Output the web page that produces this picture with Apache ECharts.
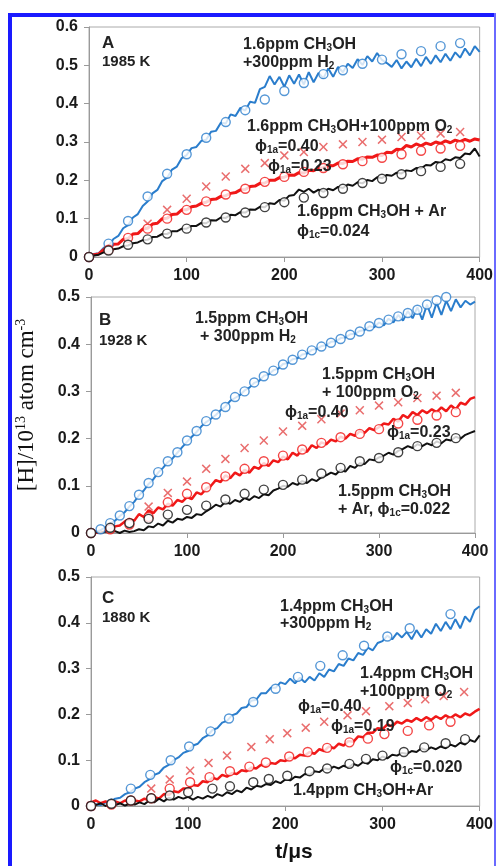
<!DOCTYPE html>
<html>
<head>
<meta charset="utf-8">
<script src="https://cdn.jsdelivr.net/npm/echarts@6/dist/echarts.min.js"></script>
<style>
  html, body { margin: 0; padding: 0; background: #fff; }
  #chart { width: 496px; height: 866px; }
</style>
</head>
<body>
<div id="chart"></div>
<script>
/* ---------- trace sample times (us) ---------- */
var traceTimes = [0, 5, 10, 15, 20, 25, 30, 35, 40, 45,
    50, 55, 60, 65, 70, 75, 80, 85, 90, 95,
    100, 105, 110, 115, 120, 125, 130, 135, 140, 145,
    150, 155, 160, 165, 170, 175, 180, 185, 190, 195,
    200, 205, 210, 215, 220, 225, 230, 235, 240, 245,
    250, 255, 260, 265, 270, 275, 280, 285, 290, 295,
    300, 305, 310, 315, 320, 325, 330, 335, 340, 345,
    350, 355, 360, 365, 370, 375, 380, 385, 390, 395,
    400];

/* ---------- panel A, 1985 K ---------- */
var traceA_H2 = [0.000, 0.008, 0.010, 0.024, 0.028, 0.047, 0.055, 0.075, 0.083, 0.103,
    0.112, 0.133, 0.145, 0.166, 0.175, 0.198, 0.207, 0.228, 0.236, 0.258,
    0.266, 0.284, 0.287, 0.303, 0.306, 0.327, 0.329, 0.350, 0.348, 0.372,
    0.368, 0.389, 0.382, 0.405, 0.402, 0.438, 0.444, 0.472, 0.450, 0.470,
    0.444, 0.474, 0.452, 0.476, 0.450, 0.482, 0.456, 0.480, 0.466, 0.492,
    0.470, 0.496, 0.482, 0.504, 0.493, 0.516, 0.501, 0.524, 0.510, 0.532,
    0.514, 0.506, 0.496, 0.514, 0.492, 0.510, 0.495, 0.517, 0.498, 0.522,
    0.504, 0.526, 0.508, 0.530, 0.512, 0.534, 0.520, 0.544, 0.526, 0.550,
    0.535];
var traceA_O2 = [0.000, 0.006, 0.008, 0.019, 0.020, 0.033, 0.034, 0.046, 0.048, 0.060,
    0.061, 0.073, 0.075, 0.086, 0.088, 0.100, 0.101, 0.111, 0.112, 0.123,
    0.123, 0.131, 0.133, 0.140, 0.143, 0.150, 0.151, 0.158, 0.160, 0.166,
    0.168, 0.175, 0.176, 0.184, 0.185, 0.192, 0.193, 0.200, 0.200, 0.207,
    0.208, 0.214, 0.213, 0.220, 0.219, 0.226, 0.225, 0.232, 0.233, 0.239,
    0.238, 0.245, 0.244, 0.250, 0.249, 0.256, 0.255, 0.261, 0.260, 0.266,
    0.265, 0.273, 0.272, 0.281, 0.280, 0.291, 0.287, 0.295, 0.290, 0.297,
    0.293, 0.300, 0.296, 0.303, 0.298, 0.305, 0.301, 0.307, 0.302, 0.308,
    0.305];
var traceA_Ar = [0.000, 0.004, 0.006, 0.012, 0.014, 0.020, 0.022, 0.028, 0.030, 0.036,
    0.038, 0.044, 0.045, 0.052, 0.053, 0.060, 0.060, 0.067, 0.067, 0.074,
    0.074, 0.081, 0.081, 0.089, 0.088, 0.096, 0.095, 0.103, 0.102, 0.110,
    0.109, 0.117, 0.116, 0.124, 0.123, 0.131, 0.130, 0.140, 0.138, 0.149,
    0.147, 0.160, 0.162, 0.176, 0.170, 0.178, 0.168, 0.176, 0.170, 0.178,
    0.174, 0.183, 0.180, 0.189, 0.186, 0.195, 0.192, 0.201, 0.198, 0.208,
    0.206, 0.214, 0.212, 0.220, 0.218, 0.226, 0.224, 0.232, 0.231, 0.240,
    0.239, 0.248, 0.246, 0.255, 0.252, 0.260, 0.258, 0.270, 0.268, 0.283,
    0.262];

var modelA_t = [0, 20, 40, 60, 80, 100, 120, 140, 160, 180, 200, 220, 240, 260, 280, 300, 320, 340, 360, 380];
var modelA_H2 = [0, 0.035, 0.094, 0.158, 0.217, 0.268, 0.311, 0.352, 0.383, 0.411, 0.433, 0.454, 0.477, 0.487, 0.504, 0.515, 0.529, 0.537, 0.550, 0.558];
var modelA_O2 = [0, 0.019, 0.050, 0.074, 0.100, 0.123, 0.145, 0.163, 0.178, 0.196, 0.209, 0.222, 0.232, 0.242, 0.250, 0.259, 0.268, 0.277, 0.283, 0.290];
var modelA_Ar = [0, 0.017, 0.032, 0.046, 0.061, 0.074, 0.090, 0.103, 0.116, 0.130, 0.143, 0.155, 0.167, 0.178, 0.193, 0.204, 0.216, 0.224, 0.235, 0.243];
var crossA_t = [60, 80, 100, 120, 140, 160, 180, 200, 220, 240, 260, 280, 300, 320, 340, 360, 380];
var crossA_O2 = [0.087, 0.123, 0.152, 0.184, 0.210, 0.230, 0.245, 0.265, 0.274, 0.287, 0.294, 0.300, 0.306, 0.313, 0.317, 0.322, 0.326];

/* ---------- panel B, 1928 K ---------- */
var traceB_H2 = [0.000, 0.003, 0.006, 0.012, 0.020, 0.026, 0.036, 0.044, 0.056, 0.066,
    0.080, 0.090, 0.104, 0.114, 0.128, 0.138, 0.150, 0.158, 0.170, 0.182,
    0.193, 0.204, 0.214, 0.226, 0.235, 0.242, 0.250, 0.260, 0.268, 0.280,
    0.286, 0.292, 0.302, 0.308, 0.318, 0.322, 0.333, 0.336, 0.345, 0.348,
    0.358, 0.360, 0.368, 0.370, 0.378, 0.380, 0.388, 0.390, 0.396, 0.398,
    0.405, 0.406, 0.413, 0.414, 0.421, 0.422, 0.428, 0.430, 0.438, 0.436,
    0.446, 0.440, 0.454, 0.446, 0.462, 0.450, 0.470, 0.455, 0.478, 0.452,
    0.484, 0.456, 0.488, 0.462, 0.492, 0.470, 0.495, 0.478, 0.492, 0.484,
    0.490];
var traceB_O2 = [0.000, 0.000, 0.000, 0.004, 0.008, 0.014, 0.016, 0.024, 0.030, 0.026,
    0.040, 0.034, 0.048, 0.042, 0.054, 0.050, 0.062, 0.058, 0.070, 0.066,
    0.076, 0.072, 0.086, 0.082, 0.094, 0.100, 0.112, 0.108, 0.122, 0.116,
    0.128, 0.122, 0.134, 0.128, 0.140, 0.136, 0.148, 0.142, 0.154, 0.150,
    0.162, 0.156, 0.170, 0.164, 0.178, 0.172, 0.186, 0.180, 0.192, 0.188,
    0.198, 0.194, 0.204, 0.200, 0.210, 0.206, 0.216, 0.212, 0.222, 0.218,
    0.224, 0.232, 0.230, 0.242, 0.236, 0.250, 0.244, 0.256, 0.250, 0.260,
    0.254, 0.262, 0.256, 0.266, 0.258, 0.270, 0.262, 0.276, 0.272, 0.284,
    0.288];
var traceB_Ar = [0.000, 0.002, 0.000, 0.003, 0.001, 0.004, 0.000, 0.005, 0.002, 0.004,
    0.008, 0.006, 0.014, 0.012, 0.020, 0.016, 0.026, 0.022, 0.030, 0.028,
    0.034, 0.032, 0.040, 0.038, 0.046, 0.052, 0.060, 0.056, 0.066, 0.062,
    0.070, 0.066, 0.074, 0.070, 0.078, 0.074, 0.082, 0.080, 0.090, 0.094,
    0.100, 0.098, 0.106, 0.102, 0.110, 0.106, 0.114, 0.110, 0.118, 0.122,
    0.128, 0.124, 0.134, 0.130, 0.142, 0.138, 0.148, 0.146, 0.156, 0.154,
    0.160, 0.164, 0.170, 0.166, 0.174, 0.178, 0.184, 0.180, 0.188, 0.184,
    0.190, 0.186, 0.194, 0.190, 0.198, 0.196, 0.204, 0.200, 0.208, 0.212,
    0.216];

var modelB_tH2 = [0, 10, 20, 30, 40, 50, 60, 70, 80, 90, 100, 110, 120, 130, 140, 150, 160, 170, 180, 190,
    200, 210, 220, 230, 240, 250, 260, 270, 280, 290, 300, 310, 320, 330, 340, 350, 360, 370];
var modelB_H2 = [0, 0.008, 0.021, 0.037, 0.057, 0.081, 0.106, 0.129, 0.152, 0.171, 0.196, 0.216, 0.237, 0.251, 0.267, 0.288, 0.300, 0.319, 0.332, 0.344,
    0.357, 0.367, 0.378, 0.387, 0.395, 0.403, 0.411, 0.420, 0.427, 0.438, 0.445, 0.452, 0.459, 0.466, 0.473, 0.484, 0.493, 0.500];
var modelB_t = [0, 20, 40, 60, 80, 100, 120, 140, 160, 180, 200, 220, 240, 260, 280, 300, 320, 340, 360, 380];
var modelB_O2 = [0, 0.008, 0.018, 0.034, 0.065, 0.083, 0.097, 0.120, 0.136, 0.152, 0.164, 0.177, 0.191, 0.203, 0.210, 0.220, 0.232, 0.240, 0.249, 0.256];
var modelB_Ar = [0, 0.011, 0.021, 0.030, 0.039, 0.049, 0.058, 0.071, 0.083, 0.092, 0.102, 0.113, 0.126, 0.138, 0.152, 0.159, 0.171, 0.184, 0.191, 0.201];
var crossB_t = [60, 80, 100, 120, 140, 160, 180, 200, 220, 240, 260, 280, 300, 320, 340, 360, 380];
var crossB_O2 = [0.056, 0.085, 0.109, 0.136, 0.157, 0.180, 0.196, 0.215, 0.227, 0.241, 0.253, 0.260, 0.270, 0.277, 0.286, 0.291, 0.297];

/* ---------- panel C, 1880 K ---------- */
var traceC_H2 = [0.000, 0.004, 0.002, 0.008, 0.010, 0.016, 0.018, 0.026, 0.030, 0.038,
    0.042, 0.052, 0.058, 0.068, 0.072, 0.084, 0.090, 0.100, 0.106, 0.116,
    0.120, 0.132, 0.136, 0.148, 0.154, 0.166, 0.170, 0.182, 0.186, 0.198,
    0.202, 0.214, 0.216, 0.230, 0.232, 0.246, 0.246, 0.258, 0.258, 0.270,
    0.266, 0.278, 0.268, 0.280, 0.270, 0.282, 0.274, 0.290, 0.282, 0.298,
    0.294, 0.310, 0.306, 0.322, 0.318, 0.334, 0.330, 0.346, 0.340, 0.356,
    0.360, 0.372, 0.364, 0.378, 0.368, 0.380, 0.364, 0.384, 0.368, 0.386,
    0.376, 0.398, 0.382, 0.402, 0.386, 0.408, 0.388, 0.414, 0.402, 0.428,
    0.436];
var traceC_O2 = [0.008, 0.012, 0.006, 0.010, 0.004, 0.010, 0.006, 0.012, 0.008, 0.012,
    0.010, 0.016, 0.012, 0.020, 0.016, 0.026, 0.024, 0.032, 0.030, 0.038,
    0.038, 0.046, 0.044, 0.054, 0.052, 0.062, 0.058, 0.068, 0.064, 0.072,
    0.070, 0.078, 0.076, 0.084, 0.082, 0.090, 0.086, 0.094, 0.092, 0.100,
    0.098, 0.106, 0.104, 0.112, 0.110, 0.118, 0.114, 0.124, 0.120, 0.130,
    0.126, 0.136, 0.132, 0.142, 0.140, 0.152, 0.150, 0.160, 0.160, 0.170,
    0.168, 0.178, 0.174, 0.184, 0.180, 0.188, 0.184, 0.192, 0.186, 0.194,
    0.188, 0.196, 0.190, 0.198, 0.192, 0.200, 0.194, 0.202, 0.198, 0.206,
    0.212];
var traceC_Ar = [0.004, 0.002, 0.006, 0.000, 0.005, 0.002, 0.006, 0.001, 0.005, 0.003,
    0.008, 0.004, 0.012, 0.008, 0.016, 0.010, 0.018, 0.014, 0.020, 0.016,
    0.020, 0.014, 0.020, 0.016, 0.022, 0.018, 0.026, 0.022, 0.030, 0.026,
    0.034, 0.030, 0.040, 0.036, 0.044, 0.042, 0.048, 0.046, 0.054, 0.050,
    0.058, 0.056, 0.064, 0.062, 0.070, 0.068, 0.076, 0.074, 0.082, 0.080,
    0.086, 0.082, 0.088, 0.084, 0.092, 0.088, 0.096, 0.092, 0.102, 0.100,
    0.108, 0.104, 0.112, 0.110, 0.116, 0.114, 0.120, 0.118, 0.126, 0.122,
    0.128, 0.124, 0.130, 0.126, 0.134, 0.130, 0.138, 0.134, 0.144, 0.140,
    0.154];

var modelC_tH2 = [0, 21, 41, 61, 82, 101, 123, 142, 167, 190, 213, 236, 259, 281, 305, 328, 370];
var modelC_H2 = [0, 0.005, 0.038, 0.068, 0.100, 0.130, 0.163, 0.191, 0.227, 0.256, 0.282, 0.306, 0.329, 0.350, 0.370, 0.388, 0.419];
var modelC_tO2 = [0, 21, 41, 62, 81, 102, 122, 143, 163, 180, 204, 223, 243, 266, 285, 302, 326, 348, 370];
var modelC_O2 = [0, 0.003, 0.012, 0.017, 0.038, 0.052, 0.063, 0.076, 0.086, 0.095, 0.108, 0.118, 0.127, 0.139, 0.147, 0.157, 0.164, 0.176, 0.184];
var modelC_tAr = [0, 21, 41, 62, 81, 100, 125, 143, 167, 183, 202, 225, 243, 266, 283, 300, 322, 343, 365, 385];
var modelC_Ar = [0, 0.005, 0.012, 0.017, 0.023, 0.030, 0.038, 0.043, 0.052, 0.059, 0.066, 0.076, 0.082, 0.092, 0.103, 0.110, 0.118, 0.128, 0.137, 0.146];
var crossC_t = [0, 62, 81, 102, 121, 140, 165, 184, 202, 221, 240, 264, 283, 307, 326, 344, 363, 384];
var crossC_O2 = [0, 0.038, 0.058, 0.077, 0.094, 0.110, 0.129, 0.146, 0.159, 0.171, 0.184, 0.198, 0.207, 0.218, 0.225, 0.233, 0.240, 0.249];

var xTicks = [0, 100, 200, 300, 400];

/* ---------- styles ---------- */
var BLUE = '#2a7dcc';
var RED = '#f01818';
var CROSS = '#e34a4a';
var BLACK = '#111111';
var AXIS = '#9a9a9a';
var xMark = 'path://M0,1.2L1.2,0L5,3.8L8.8,0L10,1.2L6.2,5L10,8.8L8.8,10L5,6.2L1.2,10L0,8.8L3.8,5Z';

function pairs(xs, ys) {
    var out = [];
    for (var i = 0; i < xs.length; i++) {
        out.push([xs[i], ys[i]]);
    }
    return out;
}

function trace(idx, ys, color, width) {
    return {
        type: 'line', xAxisIndex: idx, yAxisIndex: idx,
        data: pairs(traceTimes, ys),
        showSymbol: false, silent: true, animation: false,
        lineStyle: { color: color, width: width }
    };
}

function circles(idx, xs, ys, color) {
    return {
        type: 'scatter', xAxisIndex: idx, yAxisIndex: idx,
        data: pairs(xs, ys), symbol: 'circle', symbolSize: 9, z: 5,
        silent: true, animation: false,
        itemStyle: { color: '#fff', borderColor: color, borderWidth: 1.4 }
    };
}

function crosses(idx, xs, ys) {
    return {
        type: 'scatter', xAxisIndex: idx, yAxisIndex: idx,
        data: pairs(xs, ys), symbol: xMark, symbolSize: 9, z: 4,
        silent: true, animation: false,
        itemStyle: { color: CROSS }
    };
}

function xAxisFor(idx) {
    return {
        type: 'value', gridIndex: idx, min: xTicks[0], max: xTicks[xTicks.length - 1], interval: 100,
        axisLine: { show: true, lineStyle: { color: AXIS } },
        axisTick: { show: true, length: 5, lineStyle: { color: AXIS } },
        axisLabel: { fontSize: 16, fontWeight: 'bold', color: '#1a1a1a', margin: 11, fontFamily: 'Arial' },
        splitLine: { show: false }
    };
}

function yAxisFor(idx, max) {
    return {
        type: 'value', gridIndex: idx, min: 0, max: max, interval: 0.1,
        axisLine: { show: true, lineStyle: { color: AXIS } },
        axisTick: { show: true, length: 5, lineStyle: { color: AXIS } },
        axisLabel: { fontSize: 16, fontWeight: 'bold', color: '#1a1a1a', margin: 11, fontFamily: 'Arial' },
        splitLine: { show: false }
    };
}

/* ---------- annotations ---------- */
var rich = {
    s: { fontSize: 10, fontWeight: 'bold', fontFamily: 'Arial', fill: '#222', verticalAlign: 'bottom', lineHeight: 15 }
};

function note(x, y, text, size) {
    return {
        type: 'text', x: x, y: y, z: 20, silent: true,
        style: {
            text: text, rich: rich, fill: '#222',
            font: 'bold ' + (size || 16) + 'px Arial',
            align: 'left', verticalAlign: 'middle'
        }
    };
}

var PHI = '\u03d5';

var notes = [
    note(102, 43, 'A', 17), note(102, 62, '1985 K', 15),
    note(243, 45, '1.6ppm CH{s|3}OH'), note(243, 63, '+300ppm H{s|2}'),
    note(247, 127, '1.6ppm CH{s|3}OH+100ppm O{s|2}'),
    note(255, 147, PHI + '{s|1a}=0.40'), note(268, 167, PHI + '{s|1a}=0.23'),
    note(297, 212, '1.6ppm CH{s|3}OH + Ar'), note(297, 232, PHI + '{s|1c}=0.024'),

    note(99, 320, 'B', 17), note(99, 341, '1928 K', 15),
    note(195, 319, '1.5ppm CH{s|3}OH'), note(200, 337, '+ 300ppm H{s|2}'),
    note(322, 375, '1.5ppm CH{s|3}OH'), note(322, 393, '+ 100ppm O{s|2}'),
    note(285, 413, PHI + '{s|1a}=0.40'), note(387, 433, PHI + '{s|1a}=0.23'),
    note(338, 492, '1.5ppm CH{s|3}OH'), note(338, 510, '+ Ar, ' + PHI + '{s|1c}=0.022'),

    note(102, 598, 'C', 17), note(102, 618, '1880 K', 15),
    note(280, 607, '1.4ppm CH{s|3}OH'), note(280, 624, '+300ppm H{s|2}'),
    note(360, 674, '1.4ppm CH{s|3}OH'), note(360, 692, '+100ppm O{s|2}'),
    note(298, 707, PHI + '{s|1a}=0.40'), note(331, 727, PHI + '{s|1a}=0.19'),
    note(390, 768, PHI + '{s|1c}=0.020'), note(293, 791, '1.4ppm CH{s|3}OH+Ar'),

    {
        type: 'text', x: 294, y: 852, silent: true,
        style: { text: 't/\u03bcs', fill: '#111', font: 'bold 21px Arial', align: 'center', verticalAlign: 'middle' }
    },
    {
        type: 'text', x: 27, y: 405, rotation: Math.PI / 2, silent: true,
        style: {
            text: '[H]/10{u|13} atom cm{u|-3}', fill: '#111',
            font: '23px "Liberation Serif", "Times New Roman", serif',
            align: 'center', verticalAlign: 'middle',
            rich: { u: { fontSize: 14, fontFamily: 'Liberation Serif', fill: '#111', verticalAlign: 'top', lineHeight: 26 } }
        }
    },

    /* blue frame around the figure */
    { type: 'rect', shape: { x: 8, y: 13, width: 4, height: 853 }, style: { fill: '#1a1aff' }, silent: true },
    { type: 'rect', shape: { x: 8, y: 13, width: 488, height: 4 }, style: { fill: '#1a1aff' }, silent: true },
    { type: 'rect', shape: { x: 494, y: 13, width: 2, height: 853 }, style: { fill: '#6a6aff' }, silent: true }
];

/* ---------- chart ---------- */
var chart = echarts.init(document.getElementById('chart'), null, { renderer: 'canvas' });

var option = {
    backgroundColor: '#fff',
    animation: false,
    grid: [
        { left: 89, top: 27, width: 391, height: 230, show: true, borderColor: '#aaa', borderWidth: 1, backgroundColor: '#fff' },
        { left: 91, top: 297, width: 384, height: 236, show: true, borderColor: '#aaa', borderWidth: 1, backgroundColor: '#fff' },
        { left: 91, top: 577, width: 390, height: 229, show: true, borderColor: '#aaa', borderWidth: 1, backgroundColor: '#fff' }
    ],
    xAxis: [xAxisFor(0), xAxisFor(1), xAxisFor(2)],
    yAxis: [yAxisFor(0, 0.6), yAxisFor(1, 0.5), yAxisFor(2, 0.5)],
    graphic: notes,
    series: [
        trace(0, traceA_H2, BLUE, 2), trace(0, traceA_O2, RED, 3), trace(0, traceA_Ar, BLACK, 2),
        crosses(0, crossA_t, crossA_O2),
        circles(0, modelA_t, modelA_H2, BLUE), circles(0, modelA_t, modelA_O2, RED), circles(0, modelA_t, modelA_Ar, BLACK),

        trace(1, traceB_H2, BLUE, 2), trace(1, traceB_O2, RED, 2.5), trace(1, traceB_Ar, BLACK, 2),
        crosses(1, crossB_t, crossB_O2),
        circles(1, modelB_tH2, modelB_H2, BLUE), circles(1, modelB_t, modelB_O2, RED), circles(1, modelB_t, modelB_Ar, BLACK),

        trace(2, traceC_H2, BLUE, 2), trace(2, traceC_O2, RED, 2.5), trace(2, traceC_Ar, BLACK, 2),
        crosses(2, crossC_t, crossC_O2),
        circles(2, modelC_tH2, modelC_H2, BLUE), circles(2, modelC_tO2, modelC_O2, RED), circles(2, modelC_tAr, modelC_Ar, BLACK)
    ]
};

chart.setOption(option);
</script>
</body>
</html>
